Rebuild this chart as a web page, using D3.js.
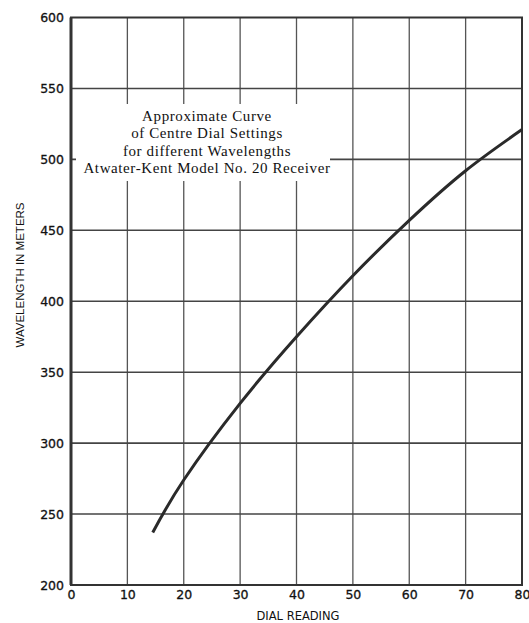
<!DOCTYPE html>
<meta charset="utf-8">
<script src="https://d3js.org/d3.v7.min.js"></script>
<style>
  body { margin: 0; background: #fff; }
</style>
<div id="chart"></div>
<script>

// values (dial reading -> wavelength in meters)
var dial = [14.5, 20, 30, 40, 50, 60, 70, 80];
var wavelength = [237, 274, 328, 375, 418, 457, 492, 521];

var xTicks = [0, 10, 20, 30, 40, 50, 60, 70, 80];
var yTicks = [200, 250, 300, 350, 400, 450, 500, 550, 600];

var noteLines = [
  "Approximate Curve",
  "of Centre Dial Settings",
  "for different Wavelengths",
  "Atwater-Kent Model No. 20 Receiver"
];

var margin = {top: 17.5, right: 7, bottom: 38, left: 71},
    width = 529 - margin.left - margin.right,
    height = 623 - margin.top - margin.bottom;

var svg = d3.select("#chart")
  .append("svg")
    .attr("width", 529)
    .attr("height", 623)
  .append("g")
    .attr("transform", "translate(" + margin.left + "," + margin.top + ")");

var x = d3.scaleLinear().domain([0, 80]).range([0, width]);
var y = d3.scaleLinear().domain([200, 600]).range([height, 0]);

// grid
svg.selectAll(".vgrid")
  .data(xTicks.slice(1, -1))
  .enter().append("line")
    .attr("x1", d => x(d)).attr("x2", d => x(d))
    .attr("y1", 0).attr("y2", height)
    .attr("stroke", "#555")
    .attr("stroke-width", 1.3);

svg.selectAll(".hgrid")
  .data(yTicks.slice(1, -1))
  .enter().append("line")
    .attr("x1", 0).attr("x2", width)
    .attr("y1", d => y(d)).attr("y2", d => y(d))
    .attr("stroke", "#444")
    .attr("stroke-width", 1.6);

// blank patch behind the note, as on the printed sheet
svg.append("rect")
  .attr("x", 5)
  .attr("y", 104 - margin.top)
  .attr("width", 254)
  .attr("height", 77)
  .attr("fill", "#fff");

// frame
svg.append("rect")
  .attr("width", width)
  .attr("height", height)
  .attr("fill", "none")
  .attr("stroke", "#333")
  .attr("stroke-width", 2);

svg.append("line")
  .attr("x1", 0).attr("x2", 0)
  .attr("y1", 0).attr("y2", height)
  .attr("stroke", "#333")
  .attr("stroke-width", 3);

// axes (labels only, the grid does the rest)
var yAxis = svg.append("g")
  .call(d3.axisLeft(y).tickValues(yTicks).tickSize(0).tickPadding(7));
yAxis.select(".domain").remove();
yAxis.selectAll("text")
  .attr("font-family", "DejaVu Sans")
  .attr("font-size", 12.5)
  .attr("fill", "#111")
  .attr("stroke", "#111")
  .attr("stroke-width", 0.3);

var xAxis = svg.append("g")
  .attr("transform", "translate(0," + height + ")")
  .call(d3.axisBottom(x).tickValues(xTicks).tickSize(0).tickPadding(5));
xAxis.select(".domain").remove();
xAxis.selectAll("text")
  .attr("font-family", "DejaVu Sans")
  .attr("font-size", 12.5)
  .attr("fill", "#111")
  .attr("stroke", "#111")
  .attr("stroke-width", 0.3);

// curve
var line = d3.line()
  .x((d, i) => x(dial[i]))
  .y(d => y(d))
  .curve(d3.curveNatural);

svg.append("path")
  .datum(wavelength)
  .attr("d", line)
  .attr("fill", "none")
  .attr("stroke", "#2a2a2a")
  .attr("stroke-width", 3);

// axis titles
svg.append("text")
  .attr("text-anchor", "middle")
  .attr("x", 298 - margin.left)
  .attr("y", height + 35)
  .attr("font-family", "DejaVu Sans")
  .attr("font-size", 11.5)
  .attr("fill", "#111")
  .text("DIAL READING");

svg.append("text")
  .attr("text-anchor", "middle")
  .attr("transform", "translate(" + (24 - margin.left) + "," + (275 - margin.top) + ") rotate(-90)")
  .attr("font-family", "Liberation Sans")
  .attr("font-size", 11.5)
  .attr("fill", "#111")
  .text("WAVELENGTH IN METERS");

// note text
svg.selectAll(".note")
  .data(noteLines)
  .enter().append("text")
    .attr("text-anchor", "middle")
    .attr("x", 207 - margin.left)
    .attr("y", (d, i) => 121 - margin.top + i * 17.3)
    .attr("font-family", "Liberation Serif")
    .attr("font-size", 15)
    .attr("letter-spacing", 0.6)
    .attr("fill", "#111")
    .text(d => d);

</script>
